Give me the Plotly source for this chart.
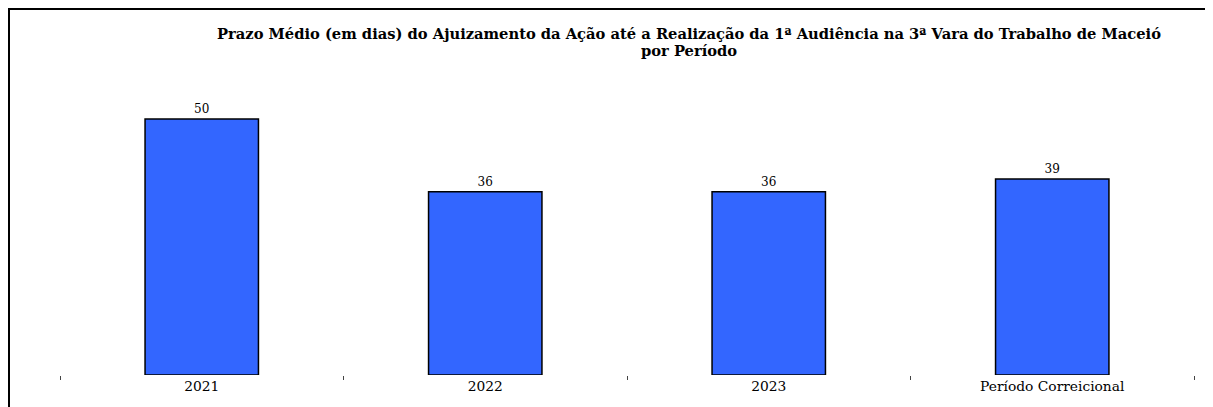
import plotly.graph_objects as go

categories = ["2021", "2022", "2023", "Período Correicional"]
values = [50, 35.8, 35.8, 38.3]
value_labels = ["50", "36", "36", "39"]
title_lines = [
    "Prazo Médio (em dias) do Ajuizamento da Ação até a Realização da 1ª Audiência na 3ª Vara do Trabalho de Maceió",
    "por Período",
]

FONT = "DejaVu Serif"

fig = go.Figure()
fig.add_trace(go.Bar(
    x=categories, y=values, width=0.4,
    marker=dict(color="#3366FF", line=dict(color="black", width=1.5)),
    text=value_labels, textposition="outside",
    textfont=dict(family=FONT, size=12, color="black"),
    cliponaxis=False,
))

W, H = 1205, 399
L, R, T, B = 52, W - 1186, 52, H - 367
pw, ph = W - L - R, H - T - B

def px(x):
    return (x - L) / pw

def py(y):
    return (H - B - y) / ph

annotations = []
for i, line in enumerate(title_lines):
    annotations.append(dict(
        text="<b>" + line + "</b>", xref="paper", yref="paper",
        x=px(681), y=py(25.5 + 17 * i), xanchor="center", yanchor="middle",
        showarrow=False, font=dict(family=FONT, size=14.7, color="black"),
    ))

fig.update_layout(
    width=W, height=H,
    margin=dict(l=L, r=R, t=T, b=B),
    paper_bgcolor="white", plot_bgcolor="white",
    showlegend=False,
    font=dict(family=FONT, size=12, color="black"),
    annotations=annotations,
    xaxis=dict(type="category", range=[-0.5, 3.5], showgrid=False, showline=False,
               ticks="outside", tickson="boundaries", ticklen=4, tickwidth=1,
               tickcolor="#444", tickfont=dict(family=FONT, size=13.8),
               ticklabelstandoff=1),
    yaxis=dict(range=[0, ph / 5.12], visible=False, showgrid=False),
    shapes=[
        dict(type="line", xref="paper", yref="paper",
             x0=px(0), x1=px(W), y0=py(1), y1=py(1),
             line=dict(color="black", width=2)),
        dict(type="line", xref="paper", yref="paper",
             x0=px(1), x1=px(1), y0=py(0), y1=py(H),
             line=dict(color="black", width=2)),
    ],
)

fig.write_html("out.html")
